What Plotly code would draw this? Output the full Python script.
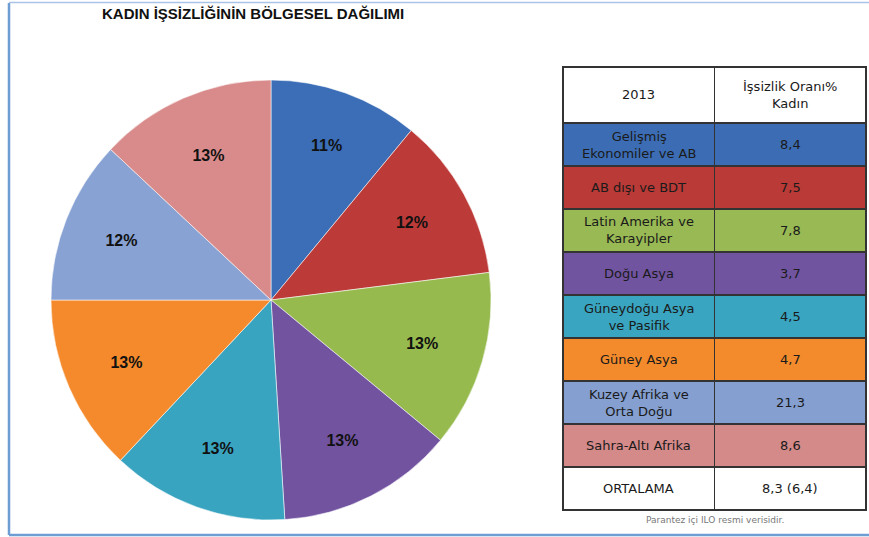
import plotly.graph_objects as go

# ---- data ----
regions = ["Gelişmiş Ekonomiler ve AB", "AB dışı ve BDT", "Latin Amerika ve Karayipler",
           "Doğu Asya", "Güneydoğu Asya ve Pasifik", "Güney Asya",
           "Kuzey Afrika ve Orta Doğu", "Sahra-Altı Afrika"]
pie_shares = [11, 12, 13, 13, 13, 13, 12, 13]
table_regions = ["Gelişmiş<br>Ekonomiler ve AB", "AB dışı ve BDT", "Latin Amerika ve<br>Karayipler",
                 "Doğu Asya", "Güneydoğu Asya<br>ve Pasifik", "Güney Asya",
                 "Kuzey Afrika ve<br>Orta Doğu", "Sahra-Altı Afrika", "ORTALAMA"]
table_rates = ["8,4", "7,5", "7,8", "3,7", "4,5", "4,7", "21,3", "8,6", "8,3 (6,4)"]
header = ["2013", "İşsizlik Oranı%<br>Kadın"]
colors = ["#3B6EB6", "#BC3B38", "#96BA4E", "#7253A0", "#39A4C0", "#F48A2B", "#87A2D3", "#D98B8B"]
table_fill = ["#3C6DB4", "#B93A37", "#98B954", "#7154A0", "#39A5C0", "#F38B2C", "#85A0D0", "#D58A8A", "#FFFFFF"]

W, H = 869, 537
# table geometry (pixels)
TX0, TX1, TY0 = 563, 866, 67
HEAD_H, ROW_H = 56, 43
n_rows = len(table_regions)
TY1 = TY0 + HEAD_H + ROW_H * n_rows

fig = go.Figure()

fig.add_trace(go.Pie(
    labels=regions, values=pie_shares, sort=False, direction="clockwise", rotation=0,
    marker=dict(colors=colors, line=dict(color="rgba(255,255,255,0.55)", width=1)),
    texttemplate="<b>%{percent:.0%}</b>", textposition="inside",
    insidetextorientation="horizontal",
    textfont=dict(family="Liberation Sans, Arial", size=16, color="#111"),
    showlegend=False, hoverinfo="label+percent",
    domain=dict(x=[(271 - 222) / W, (271 + 222) / W], y=[1 - (300 + 220) / H, 1 - (300 - 220) / H]),
))

fig.add_trace(go.Table(
    columnwidth=[1, 1],
    header=dict(values=["", ""], fill_color="white", height=HEAD_H,
                line=dict(color="#333", width=1.5)),
    cells=dict(values=[[""] * n_rows, [""] * n_rows],
               fill_color=[table_fill, table_fill], height=ROW_H,
               line=dict(color="#333", width=1.5)),
    domain=dict(x=[TX0 / W, TX1 / W], y=[1 - (TY1 + 2) / H, 1 - TY0 / H]),
))

cell_font = dict(family="DejaVu Sans", size=13, color="#1a1a1a")
col_centers = [(TX0 + (TX0 + TX1) / 2) / 2, ((TX0 + TX1) / 2 + TX1) / 2]
annotations = [
    dict(text="<b>KADIN İŞSİZLİĞİNİN BÖLGESEL DAĞILIMI</b>", x=100 / W, y=1 - 14 / H,
         xref="paper", yref="paper", xanchor="left", yanchor="middle", showarrow=False,
         font=dict(family="Liberation Sans, Arial", size=15, color="#111")),
    dict(text="Parantez içi ILO resmi verisidir.", x=715 / W, y=1 - 520 / H,
         xref="paper", yref="paper", xanchor="center", yanchor="middle", showarrow=False,
         font=dict(family="DejaVu Sans", size=9, color="#777")),
]
for j, h in enumerate(header):
    annotations.append(dict(text=h, x=col_centers[j] / W, y=1 - (TY0 + HEAD_H / 2) / H,
                            xref="paper", yref="paper", xanchor="center", yanchor="middle",
                            showarrow=False, font=cell_font))
for i in range(n_rows):
    yc = 1 - (TY0 + HEAD_H + ROW_H * i + ROW_H / 2) / H
    for j, col in enumerate([table_regions, table_rates]):
        annotations.append(dict(text=col[i], x=col_centers[j] / W, y=yc,
                                xref="paper", yref="paper", xanchor="center", yanchor="middle",
                                showarrow=False, font=cell_font))

fig.update_layout(
    width=W, height=H, margin=dict(l=0, r=0, t=0, b=0),
    paper_bgcolor="white", plot_bgcolor="white",
    annotations=annotations,
    shapes=[
        dict(type="line", xref="paper", yref="paper", x0=9 / W, x1=9 / W, y0=1 - 3 / H, y1=1 - 535 / H,
             line=dict(color="#6E9DD3", width=2.5)),
        dict(type="line", xref="paper", yref="paper", x0=9 / W, x1=1, y0=1 - 535 / H, y1=1 - 535 / H,
             line=dict(color="#6E9DD3", width=2.5)),
        dict(type="line", xref="paper", yref="paper", x0=9 / W, x1=1, y0=1 - 2.5 / H, y1=1 - 2.5 / H,
             line=dict(color="#A9C4E6", width=1.5)),
    ],
)

fig.write_html("out.html", config={"displayModeBar": False},
               post_script="document.body.style.margin='0';document.body.style.padding='0';")
